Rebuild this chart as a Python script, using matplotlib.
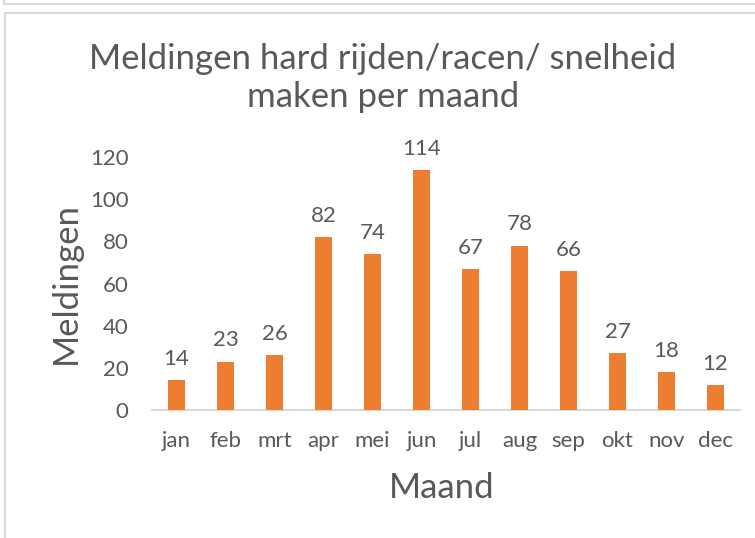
import matplotlib
matplotlib.use("Agg")
import matplotlib.pyplot as plt
from matplotlib.lines import Line2D

# data
maanden = ["jan", "feb", "mrt", "apr", "mei", "jun", "jul", "aug", "sep", "okt", "nov", "dec"]
meldingen = [14, 23, 26, 82, 74, 114, 67, 78, 66, 27, 18, 12]
yticks = [0, 20, 40, 60, 80, 100, 120]

grey = "#595959"
orange = "#ED7D31"
border = "#D9D9D9"

plt.rcParams["font.family"] = ["Lato", "DejaVu Sans"]

W, H = 755, 538
fig = plt.figure(figsize=(W / 100, H / 100), dpi=100)
fig.patch.set_facecolor("white")

# plot area in pixels: x 152..740, y 157..410 (from top)
ax = fig.add_axes([152 / W, 1 - 410 / H, (740 - 152) / W, (410 - 157) / H])
x = range(len(maanden))
ax.bar(x, meldingen, width=0.33, color=orange, zorder=3)
for xi, v in zip(x, meldingen):
    ax.annotate(str(v), (xi, v), xytext=(0, 8), textcoords="offset points",
                ha="center", va="bottom", fontsize=16, color=grey)

ax.set_xlim(-0.5, len(maanden) - 0.5)
ax.set_ylim(0, 120)
ax.set_yticks(yticks)
ax.set_xticks(list(x))
ax.set_xticklabels(maanden)
ax.tick_params(axis="both", length=0, labelsize=16, colors=grey)
ax.tick_params(axis="y", pad=17)
ax.tick_params(axis="x", pad=15)
for s in ["top", "right", "left"]:
    ax.spines[s].set_visible(False)
ax.spines["bottom"].set_color(border)
ax.spines["bottom"].set_linewidth(1.5)
ax.set_facecolor("none")

ax.set_xlabel("Maand", fontsize=25, color=grey, va="center")
ax.xaxis.set_label_coords(0.492, -0.308)
ax.set_ylabel("Meldingen", fontsize=25, color=grey, va="center")
ax.yaxis.set_label_coords(-0.146, 0.5)

fig.text(383 / W, 1 - 78 / H, "Meldingen hard rijden/racen/ snelheid\nmaken per maand",
         ha="center", va="center", fontsize=25, color=grey, linespacing=1.22)

# chart borders
def px_line(xs, ys):
    fig.add_artist(Line2D([a / W for a in xs], [1 - b / H for b in ys],
                          color=border, linewidth=1.5))

px_line([4, 4, 755], [0, 4, 4])
px_line([755, 5, 5], [13, 13, 538])

fig.savefig("out.png", dpi=100)
